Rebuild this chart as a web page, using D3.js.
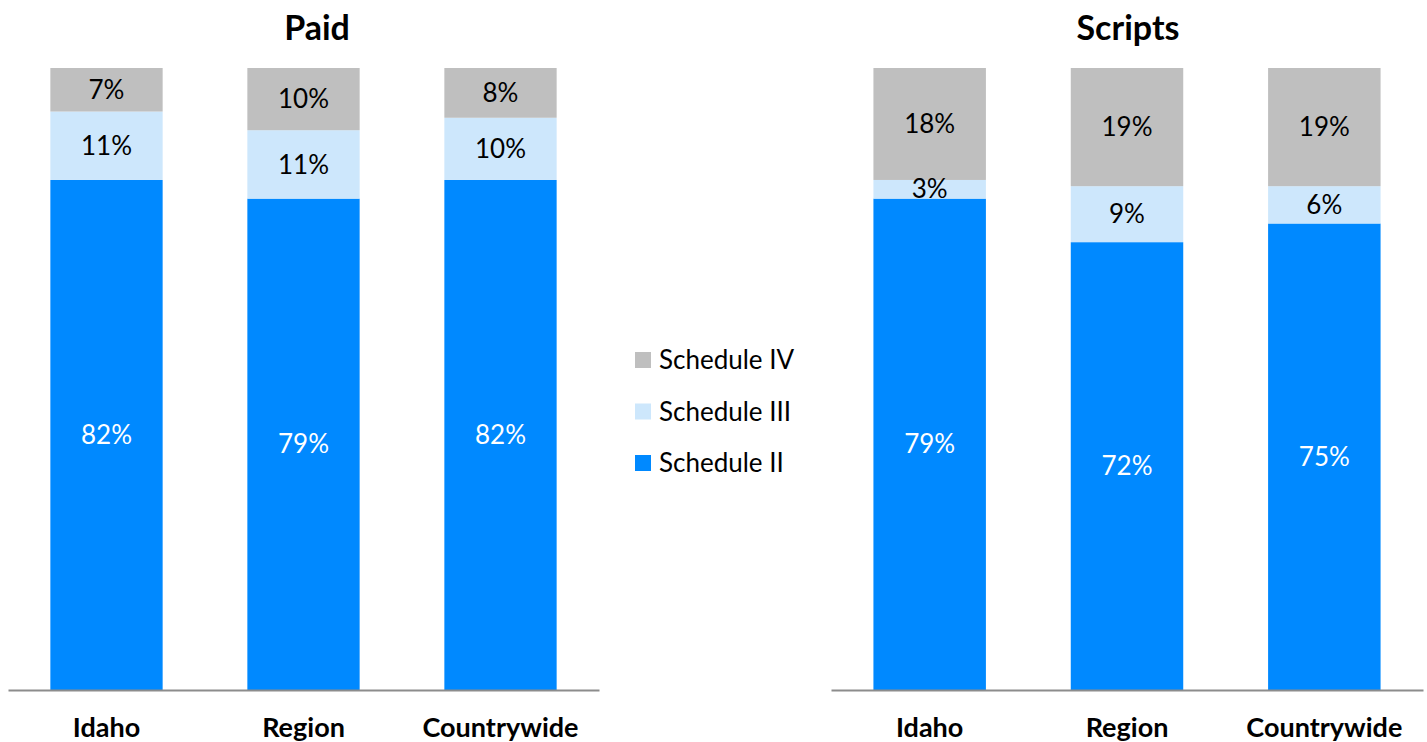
<!DOCTYPE html>
<html>
<head>
<meta charset="utf-8">
<script src="https://cdn.jsdelivr.net/npm/d3@7"></script>
<style>
  body { margin: 0; background: #fff; }
  svg text { font-family: Lato, "Open Sans", sans-serif; }
</style>
</head>
<body>
<div id="chart"></div>
<script>
// data
var categories = ["Idaho", "Region", "Countrywide"];
var seriesNames = ["Schedule II", "Schedule III", "Schedule IV"];
var paidII = [82, 79, 82];
var paidIII = [11, 11, 10];
var paidIV = [7, 10, 8];
var scriptsII = [79, 72, 75];
var scriptsIII = [3, 9, 6];
var scriptsIV = [18, 19, 19];

var colors = { "Schedule II": "#0089FF", "Schedule III": "#CDE7FC", "Schedule IV": "#BFBFBF" };
var labelColors = { "Schedule II": "#ffffff", "Schedule III": "#000000", "Schedule IV": "#000000" };

var width = 1427, height = 742;

var svg = d3.select("#chart")
    .append("svg")
    .attr("width", width)
    .attr("height", height);

var y = d3.scaleLinear()
    .domain([0, 100])
    .range([690, 68]);

function buildRows(ii, iii, iv) {
    return categories.map(function (c, i) {
        return { cat: c, "Schedule II": ii[i], "Schedule III": iii[i], "Schedule IV": iv[i] };
    });
}

function drawPanel(title, rows, x0, x1, titleX) {
    var x = d3.scaleBand()
        .domain(categories)
        .range([x0, x1])
        .paddingInner(0.43)
        .paddingOuter(0.215);

    var stack = d3.stack().keys(seriesNames)(rows);

    var g = svg.append("g");

    // bars
    var layer = g.selectAll(".layer")
        .data(stack)
        .enter()
        .append("g")
        .attr("fill", function (d) { return colors[d.key]; });

    layer.selectAll("rect")
        .data(function (d) { return d; })
        .enter()
        .append("rect")
        .attr("x", function (d) { return x(d.data.cat); })
        .attr("width", x.bandwidth())
        .attr("y", function (d) { return y(d[1]); })
        .attr("height", function (d) { return y(d[0]) - y(d[1]); });

    // value labels
    stack.forEach(function (s) {
        g.selectAll(null)
            .data(s)
            .enter()
            .append("text")
            .attr("x", function (d) { return x(d.data.cat) + x.bandwidth() / 2; })
            .attr("y", function (d) { return (y(d[0]) + y(d[1])) / 2; })
            .attr("dy", "0.35em")
            .attr("text-anchor", "middle")
            .style("font-size", "26px")
            .attr("fill", labelColors[s.key])
            .text(function (d) { return (d[1] - d[0]) + "%"; });
    });

    // axis line
    var axis = g.append("g")
        .attr("transform", "translate(0,690)")
        .call(d3.axisBottom(x).tickSize(0).tickPadding(28));
    axis.select(".domain")
        .attr("stroke", "#8C8C8C")
        .attr("stroke-width", 2);
    axis.selectAll(".tick text")
        .style("font-size", "27px")
        .style("font-weight", "bold")
        .style("font-family", "Lato, 'Open Sans', sans-serif")
        .attr("fill", "#000");

    // title
    g.append("text")
        .attr("x", titleX)
        .attr("y", 40)
        .attr("text-anchor", "middle")
        .style("font-size", "34px")
        .style("font-weight", "bold")
        .text(title);
}

drawPanel("Paid", buildRows(paidII, paidIII, paidIV), 8, 599, 317);
drawPanel("Scripts", buildRows(scriptsII, scriptsIII, scriptsIV), 831, 1423, 1128);

// legend
var legendOrder = ["Schedule IV", "Schedule III", "Schedule II"];
var legend = svg.append("g")
    .selectAll("g")
    .data(legendOrder)
    .enter()
    .append("g")
    .attr("transform", function (d, i) { return "translate(635," + (360 + i * 51.5) + ")"; });

legend.append("rect")
    .attr("x", 0)
    .attr("y", -8)
    .attr("width", 16)
    .attr("height", 16)
    .attr("fill", function (d) { return colors[d]; });

legend.append("text")
    .attr("x", 24)
    .attr("y", 0)
    .attr("dy", "0.35em")
    .style("font-size", "26px")
    .text(function (d) { return d; });
</script>
</body>
</html>
